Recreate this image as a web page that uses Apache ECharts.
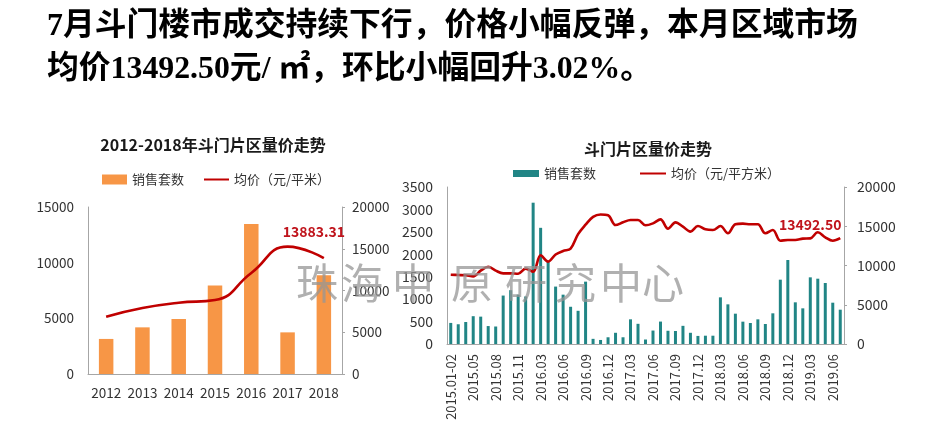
<!DOCTYPE html>
<html><head><meta charset="utf-8">
<script src="https://cdn.jsdelivr.net/npm/echarts@6/dist/echarts.min.js"></script>
<style>html,body{margin:0;padding:0;background:#fff;}#c{width:937px;height:438px;}</style>
</head><body><div id="c"></div>
<script>
const yearCats = ['2012','2013','2014','2015','2016','2017','2018'];
const yearSales = [3150,4190,4940,7960,13470,3740,8860];
const yearPrice = [6860,7900,8540,8860,12100,15250,13883.31];

const monthCats = ['2015.01-02','2015.03','2015.04','2015.05','2015.06','2015.07','2015.08','2015.09','2015.10','2015.11','2015.12',
  '2016.01-02','2016.03','2016.04','2016.05','2016.06','2016.07','2016.08','2016.09','2016.10','2016.11','2016.12',
  '2017.01','2017.02','2017.03','2017.04','2017.05','2017.06','2017.07','2017.08','2017.09','2017.10','2017.11','2017.12',
  '2018.01','2018.02','2018.03','2018.04','2018.05','2018.06','2018.07','2018.08','2018.09','2018.10','2018.11','2018.12',
  '2019.01','2019.02','2019.03','2019.04','2019.05','2019.06','2019.07'];
const monthSales = [470,440,490,620,610,400,390,1080,1200,1100,1060,
  3150,2590,1830,1280,1100,830,740,1390,115,90,150,
  250,150,550,450,100,300,500,295,290,405,250,180,
  185,185,1040,884,676,498,468,550,446,684,1434,1872,
  929,795,1486,1456,1360,921,765];
const monthPrice = [8830,8790,8750,8620,9340,9850,9340,9000,9000,8950,9600,
  9200,11300,10500,11400,11850,12150,14000,15200,16200,16500,16400,
  15150,15500,15800,15800,15120,15370,15880,14690,15500,14950,14310,15030,
  14610,14520,15030,14100,15250,15330,15250,15250,14100,14520,13160,13250,
  13250,13420,13460,14230,13590,13160,13492.50];

const headline1 = '7月斗门楼市成交持续下行，价格小幅反弹，本月区域市场';
const headline2 = '均价13492.50元/ ㎡，环比小幅回升3.02%。';
const title1 = '2012-2018年斗门片区量价走势';
const title2 = '斗门片区量价走势';
const watermark = '珠海中原研究中心';
const salesName = '销售套数';
const priceName1 = '均价（元/平米）';
const priceName2 = '均价（元/平方米）';

const ORANGE = '#F79646', TEAL = '#218585', RED = '#C00000', LABELRED = '#C0141C';
const AXIS = '#A6A6A6', TXT = '#333';
const FONT = "'Noto Sans CJK SC', 'Microsoft YaHei', sans-serif";
const plain = v => String(v);

function lastPoint(cats, vals, dx, dist) {
  const i = vals.length - 1;
  return {
    symbol: 'circle', symbolSize: 0, silent: true,
    label: { show: true, position: 'top', distance: dist, offset: [dx, 0],
      formatter: p => Number(p.value).toFixed(2),
      color: LABELRED, fontWeight: 'bold', fontSize: 14, fontFamily: FONT },
    data: [{ coord: [cats[i], vals[i]], value: vals[i] }]
  };
}

const wmX = [317, 362, 413, 472, 526, 575, 621, 663];
const HFONT = "bold 31.8px 'Liberation Serif', 'Noto Sans CJK SC'";
const graphics = [
  { type: 'text', left: 47, top: 11, z: 10, style: { text: headline1, fill: '#000', font: HFONT } },
  { type: 'text', left: 47, top: 54, z: 10, style: { text: headline2, fill: '#000', font: HFONT } },
  { type: 'text', x: 213, y: 145, z: 10, style: { text: title1, fill: '#1a1a1a', font: "bold 16px " + FONT, textAlign: 'center', textVerticalAlign: 'middle' } },
  { type: 'text', x: 648, y: 149, z: 10, style: { text: title2, fill: '#1a1a1a', font: "bold 16px " + FONT, textAlign: 'center', textVerticalAlign: 'middle' } }
];
watermark.split('').forEach((ch, i) => {
  graphics.push({ type: 'text', x: wmX[i], y: 283, z: 100, silent: true,
    style: { text: ch, fill: 'rgba(150,150,150,0.75)', font: "42px " + FONT, textAlign: 'center', textVerticalAlign: 'middle' } });
});

const chart = echarts.init(document.getElementById('c'), null, { renderer: 'canvas' });
chart.setOption({
  animation: false,
  backgroundColor: '#fff',
  textStyle: { fontFamily: FONT },
  graphic: graphics,
  legend: [
    { left: 102, top: 173, padding: 0, itemWidth: 25, itemHeight: 10, itemGap: 19,
      textStyle: { fontSize: 13, color: TXT, fontFamily: FONT },
      data: [{ name: salesName, icon: 'rect', itemStyle: { color: ORANGE } },
             { name: priceName1, itemStyle: { opacity: 0 } }] },
    { left: 513, top: 167, padding: 0, itemWidth: 26, itemHeight: 7, itemGap: 43,
      textStyle: { fontSize: 13, color: TXT, fontFamily: FONT },
      data: [{ name: salesName, icon: 'rect', itemStyle: { color: TEAL } },
             { name: priceName2, itemStyle: { opacity: 0 } }] }
  ],
  grid: [
    { left: 88, right: 595, top: 207, bottom: 64 },
    { left: 447, right: 93, top: 187, bottom: 94 }
  ],
  xAxis: [
    { type: 'category', gridIndex: 0, data: yearCats,
      axisLine: { lineStyle: { color: AXIS } }, axisTick: { show: false },
      axisLabel: { color: TXT, fontSize: 13.5, margin: 12, interval: 0 } },
    { type: 'category', gridIndex: 1, data: monthCats,
      axisLine: { lineStyle: { color: AXIS } }, axisTick: { show: false },
      axisLabel: { color: TXT, fontSize: 13, margin: 10, rotate: 90, interval: 2 } }
  ],
  yAxis: [
    { type: 'value', gridIndex: 0, min: 0, max: 15000, interval: 5000,
      axisLine: { show: true, lineStyle: { color: AXIS } }, axisTick: { show: false },
      splitLine: { show: false }, axisLabel: { color: TXT, fontSize: 13.5, margin: 14, formatter: plain } },
    { type: 'value', gridIndex: 0, position: 'right', min: 0, max: 20000, interval: 5000,
      axisLine: { show: true, lineStyle: { color: AXIS } }, axisTick: { show: true, length: 3, lineStyle: { color: AXIS } },
      splitLine: { show: false }, axisLabel: { color: TXT, fontSize: 13.5, margin: 10, formatter: plain } },
    { type: 'value', gridIndex: 1, min: 0, max: 3500, interval: 500,
      axisLine: { show: true, lineStyle: { color: AXIS } }, axisTick: { show: false },
      splitLine: { show: false }, axisLabel: { color: TXT, fontSize: 14, margin: 14, formatter: plain } },
    { type: 'value', gridIndex: 1, position: 'right', min: 0, max: 20000, interval: 5000,
      axisLine: { show: true, lineStyle: { color: AXIS } }, axisTick: { show: true, length: 3, lineStyle: { color: AXIS } },
      splitLine: { show: false }, axisLabel: { color: TXT, fontSize: 14, margin: 13, formatter: plain } }
  ],
  series: [
    { name: salesName, type: 'bar', xAxisIndex: 0, yAxisIndex: 0, data: yearSales, barWidth: 14.5,
      itemStyle: { color: ORANGE } },
    { name: priceName1, type: 'line', xAxisIndex: 0, yAxisIndex: 1, data: yearPrice,
      smooth: true, symbol: 'none', lineStyle: { color: RED, width: 2.6 }, itemStyle: { color: RED }, z: 5,
      markPoint: lastPoint(yearCats, yearPrice, -10, 19) },
    { name: salesName, type: 'bar', xAxisIndex: 1, yAxisIndex: 2, data: monthSales, barWidth: 3,
      itemStyle: { color: TEAL } },
    { name: priceName2, type: 'line', xAxisIndex: 1, yAxisIndex: 3, data: monthPrice,
      smooth: 0.35, symbol: 'none', lineStyle: { color: RED, width: 2.6 }, itemStyle: { color: RED }, z: 5,
      markPoint: lastPoint(monthCats, monthPrice, -30, 6) }
  ]
});
</script>
</body></html>
